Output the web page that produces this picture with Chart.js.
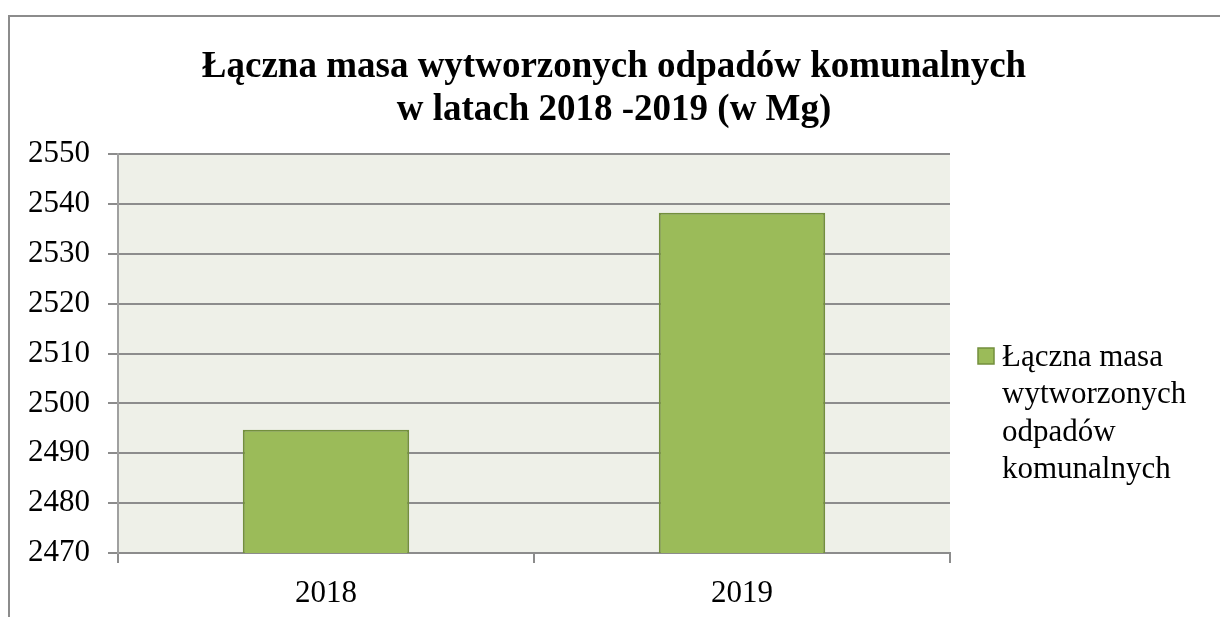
<!DOCTYPE html>
<html lang="pl">
<head>
  <meta charset="UTF-8">
  <title>Łączna masa wytworzonych odpadów komunalnych</title>
  <script src="https://cdn.jsdelivr.net/npm/chart.js"></script>
  <style>
    html, body {
      margin: 0;
      padding: 0;
      background: #fff;
      overflow: hidden;
    }
    .wrap {
      position: relative;
      width: 1220px;
      height: 617px;
    }
    .frame {
      position: absolute;
      left: 8px;
      top: 15px;
      width: 1300px;
      height: 700px;
      border-left: 2px solid #8c8c8c;
      border-top: 2px solid #8c8c8c;
      pointer-events: none;
    }
  </style>
</head>
<body>
  <div class="wrap">
    <div class="frame"></div>
    <canvas id="wasteChart"></canvas>
  </div>

  <script>
    // data
    const years = ["2018", "2019"];
    const totalMass = [2494.7, 2538.2];
    const legendLines = ["Łączna masa", "wytworzonych", "odpadów", "komunalnych"];
    const titleLines = ["Łączna masa wytworzonych odpadów komunalnych", "w latach 2018 -2019 (w Mg)"];
    const yMin = 2470, yMax = 2550, yStep = 10;

    const serif = "'Liberation Serif', 'Times New Roman', serif";

    // plot area background
    const plotBg = {
      id: 'plotBg',
      beforeDraw(chart) {
        const { ctx, chartArea: a } = chart;
        ctx.save();
        ctx.fillStyle = '#eef0e8';
        ctx.fillRect(a.left, a.top, a.right - a.left, a.bottom - a.top);
        ctx.restore();
      }
    };

    // title centred on the whole picture (the legend space is not subtracted)
    const pageTitle = {
      id: 'pageTitle',
      afterDraw(chart) {
        const { ctx } = chart;
        ctx.save();
        ctx.fillStyle = '#000';
        ctx.font = "bold 37px " + serif;
        ctx.textAlign = 'center';
        ctx.textBaseline = 'alphabetic';
        titleLines.forEach((line, i) => {
          ctx.fillText(line, 614, 77 + i * 43);
        });
        ctx.restore();
      }
    };

    // legend on the right, wrapped over several lines
    const sideLegend = {
      id: 'sideLegend',
      afterDraw(chart) {
        const { ctx } = chart;
        const ds = chart.data.datasets[0];
        ctx.save();
        ctx.fillStyle = ds.backgroundColor;
        ctx.strokeStyle = ds.borderColor;
        ctx.lineWidth = 1.5;
        ctx.fillRect(978, 348, 16, 16);
        ctx.strokeRect(978, 348, 16, 16);
        ctx.fillStyle = '#000';
        ctx.font = "31px " + serif;
        ctx.textBaseline = 'alphabetic';
        legendLines.forEach((line, i) => {
          ctx.fillText(line, 1002, 366 + i * 37.3);
        });
        ctx.restore();
      }
    };

    const ctx = document.getElementById('wasteChart').getContext('2d');
    new Chart(ctx, {
      type: 'bar',
      data: {
        labels: years,
        datasets: [{
          label: legendLines.join(' '),
          data: totalMass,
          backgroundColor: '#9bbb59',
          borderColor: '#738f3d',
          borderWidth: 2,
          borderSkipped: false,
          categoryPercentage: 1.0,
          barPercentage: 0.4
        }]
      },
      options: {
        responsive: true,
        maintainAspectRatio: false,
        animation: false,
        layout: {
          padding: { left: 0, right: 270, top: 154, bottom: 0 }
        },
        scales: {
          x: {
            afterFit(scale) { scale.height = 64; },
            grid: {
              drawOnChartArea: false,
              drawTicks: true,
              tickLength: 10,
              color: '#8c8c8c',
              lineWidth: 2
            },
            border: { display: true, color: '#8c8c8c', width: 2 },
            ticks: {
              color: '#000',
              padding: 12,
              font: { family: serif, size: 31 }
            }
          },
          y: {
            min: yMin,
            max: yMax,
            afterFit(scale) { scale.width = 118; },
            grid: {
              drawOnChartArea: true,
              drawTicks: true,
              tickLength: 10,
              color: '#8c8c8c',
              lineWidth: 2
            },
            border: { display: true, color: '#a0a0a0', width: 2 },
            ticks: {
              stepSize: yStep,
              color: '#000',
              padding: 18,
              font: { family: serif, size: 31 },
              callback: v => String(v)
            }
          }
        },
        plugins: {
          legend: { display: false },
          tooltip: { enabled: false },
          title: { display: false }
        }
      },
      plugins: [plotBg, pageTitle, sideLegend]
    });
  </script>
</body>
</html>
